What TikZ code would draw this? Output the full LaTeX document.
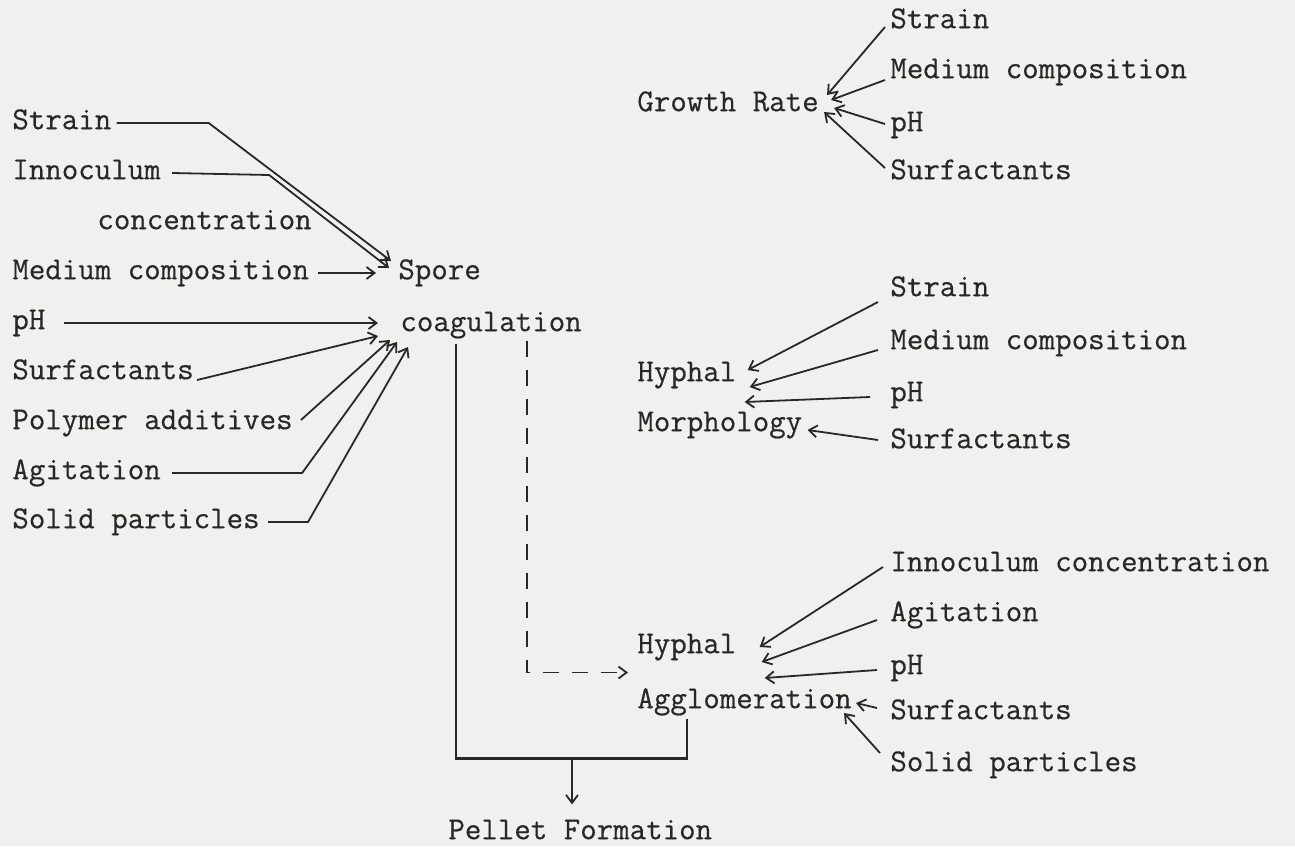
\documentclass[tikz,border=0pt]{standalone}
\usepackage{fontspec}
\newfontfamily\typewriter{Latin Modern Mono}[FakeBold=0.4]
\usepackage{tikz}
\usetikzlibrary{arrows.meta,calc}
\definecolor{paper}{RGB}{240,240,238}
\definecolor{ink}{RGB}{40,40,40}

\begin{document}
\begin{tikzpicture}[x=0.5pt,y=-0.5pt,
    txt/.style={anchor=west, inner sep=0pt, text=ink, text height=0.62em, text depth=0pt,
        font=\typewriter\fontsize{16}{19}\selectfont},
    ln/.style={ink, line width=0.9pt},
    arr/.style={ln, -{Straight Barb[length=4pt,width=6pt]}},
    dsh/.style={dash pattern=on 8pt off 6.5pt}]
    \fill[paper] (0,0) rectangle (1295,846);
    \useasboundingbox (0,0) rectangle (1295,846);

    % inputs on the left
    \node[txt] (strain) at (12,123) {Strain};
    \node[txt] (innoc) at (12,173) {Innoculum};
    \node[txt] (conc) at (97,223) {concentration};
    \node[txt] (medium) at (12,273) {Medium composition};
    \node[txt] (ph) at (12,323) {pH};
    \node[txt] (surf) at (12,373) {Surfactants};
    \node[txt] (polymer) at (12,423) {Polymer additives};
    \node[txt] (agit) at (12,473) {Agitation};
    \node[txt] (solid) at (12,522) {Solid particles};

    % spore coagulation
    \node[txt] (spore) at (398,273) {Spore};
    \node[txt] (coag) at (400,325) {coagulation};
    \draw[arr] ($(strain.east)+(5,0)$) -- ++(92,0) -- ($(spore.west)+(-7,-12)$);
    \draw[arr] ($(innoc.east)+(11,0)$) -- ++(97,2) -- ($(spore.west)+(-9,-5)$);
    \draw[arr] ($(medium.east)+(9,0)$) -- ($(spore.west)+(-22,0)$);
    \draw[arr] ($(ph.east)+(18,0)$) -- ($(coag.west)+(-22,-2)$);
    \draw[arr] ($(surf.east)+(3,7)$) -- ($(coag.west)+(-22,11)$);
    \draw[arr] ($(polymer.east)+(8,-3)$) -- ($(coag.west)+(-10,15)$);
    \draw[arr] ($(agit.east)+(11,0)$) -- ++(130,0) -- ($(coag.west)+(-3,17)$);
    \draw[arr] ($(solid.east)+(8,0)$) -- ++(40,0) -- ($(coag.west)+(8,22)$);

    % growth rate
    \node[txt] (growth) at (637,105) {Growth Rate};
    \node[txt] (gr-strain) at (890,22) {Strain};
    \node[txt] (gr-medium) at (890,72) {Medium composition};
    \node[txt] (gr-ph) at (890,125) {pH};
    \node[txt] (gr-surf) at (890,173) {Surfactants};
    \draw[arr] ($(gr-strain.west)+(-5,5)$) -- ($(growth.east)+(8,-10)$);
    \draw[arr] ($(gr-medium.west)+(-5,8)$) -- ($(growth.east)+(12,-5)$);
    \draw[arr] ($(gr-ph.west)+(-5,-1)$) -- ($(growth.east)+(15,3)$);
    \draw[arr] ($(gr-surf.west)+(-5,-5)$) -- ($(growth.east)+(5,7)$);

    % hyphal morphology
    \node[txt] (hm-top) at (637,375) {Hyphal};
    \node[txt] (hm-bot) at (637,425) {Morphology};
    \node[txt] (hm-strain) at (890,290) {Strain};
    \node[txt] (hm-medium) at (890,343) {Medium composition};
    \node[txt] (hm-ph) at (890,395) {pH};
    \node[txt] (hm-surf) at (890,442) {Surfactants};
    \draw[arr] ($(hm-strain.west)+(-12,12)$) -- ($(hm-top.east)+(11,-5)$);
    \draw[arr] ($(hm-medium.west)+(-12,7)$) -- ($(hm-top.east)+(13,12)$);
    \draw[arr] ($(hm-ph.west)+(-20,2)$) -- ($(hm-top.east)+(8,27)$);
    \draw[arr] ($(hm-surf.west)+(-12,-2)$) -- ($(hm-bot.east)+(5,5)$);

    % hyphal agglomeration
    \node[txt] (ha-top) at (637,647) {Hyphal};
    \node[txt] (ha-bot) at (637,702) {Agglomeration};
    \node[txt] (ha-innoc) at (890,565) {Innoculum concentration};
    \node[txt] (ha-agit) at (890,615) {Agitation};
    \node[txt] (ha-ph) at (890,668) {pH};
    \node[txt] (ha-surf) at (890,713) {Surfactants};
    \node[txt] (ha-solid) at (890,765) {Solid particles};
    \draw[arr] ($(ha-innoc.west)+(-7,2)$) -- ($(ha-top.east)+(23,0)$);
    \draw[arr] ($(ha-agit.west)+(-13,5)$) -- ($(ha-top.east)+(25,15)$);
    \draw[arr] ($(ha-ph.west)+(-13,2)$) -- ($(ha-top.east)+(28,31)$);
    \draw[arr] ($(ha-surf.west)+(-13,-5)$) -- ($(ha-bot.east)+(4,1)$);
    \draw[arr] ($(ha-solid.west)+(-10,-12)$) -- ($(ha-bot.east)+(-8,11)$);

    % pellet formation
    \node[txt] (pellet) at (448,833) {Pellet Formation};
    \draw[arr, dsh] ($(coag.south west)+(127,9)$) |- ($(ha-top.west)!.5!(ha-bot.west)+(-9,-2)$);
    \draw[ln, line width=1.2pt] ($(coag.south west)+(56,12)$) -- ++(0,415) coordinate (corner)
        -| ($(ha-bot.south west)+(50,10)$);
    \coordinate (split) at ($(corner)+(116,0)$);
    \draw[arr] (split) -- (split |- {$(pellet.north)+(0,-22)$});
\end{tikzpicture}
\end{document}
